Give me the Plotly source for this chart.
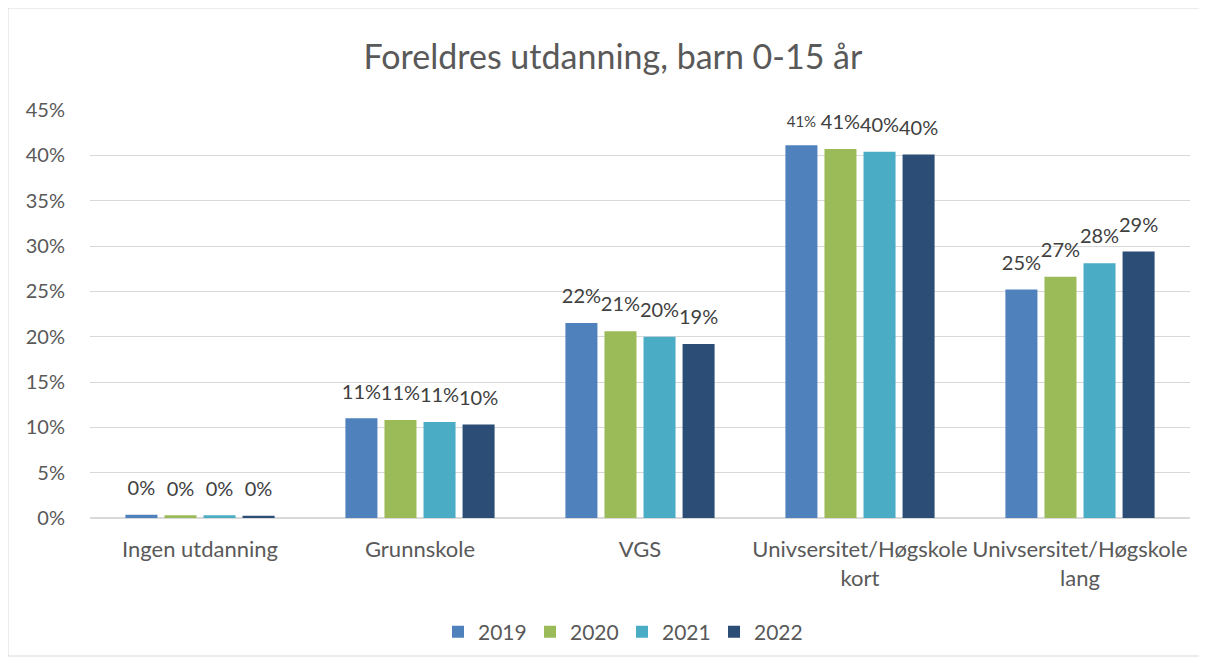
import plotly.graph_objects as go

categories = ["Ingen utdanning", "Grunnskole", "VGS", "Univsersitet/Høgskole<br>kort", "Univsersitet/Høgskole<br>lang"]
years = ["2019", "2020", "2021", "2022"]
v2019 = [0.0035, 0.110, 0.215, 0.411, 0.252]
v2020 = [0.0030, 0.108, 0.206, 0.407, 0.266]
v2021 = [0.0030, 0.106, 0.200, 0.404, 0.281]
v2022 = [0.0025, 0.103, 0.192, 0.401, 0.294]
series = [v2019, v2020, v2021, v2022]
colors = ["#4F81BD", "#9BBB59", "#4BACC6", "#2C4D75"]

W, H = 1207, 662
OFF = 8  # page body margin offset
L, T = 90 - OFF, 110 - OFF
R = W - (1190 - OFF)
B = H - (518 - OFF)
FONT = "Lato, 'Liberation Sans', sans-serif"
GREY = "#595959"
BARGAP = 0.29

fig = go.Figure()
for yr, vals, col in zip(years, series, colors):
    fig.add_trace(go.Bar(
        name=yr, x=categories, y=vals, marker=dict(color=col, line=dict(width=0)),
        offsetgroup=yr, alignmentgroup="a",
    ))
for yr, vals in zip(years, series):
    sizes = [20] * len(vals)
    if yr == "2019":
        sizes[3] = 15
    fig.add_trace(go.Scatter(
        x=categories, y=vals, mode="markers+text", showlegend=False, hoverinfo="skip",
        marker=dict(size=22, opacity=0, color="white"),
        text=[f"{round(v*100):.0f}%" for v in vals], textposition="top center",
        textfont=dict(size=sizes, color="#404040", family=FONT),
        offsetgroup=yr, alignmentgroup="a", cliponaxis=False,
    ))

pw = W - L - R
ph = H - T - B
fig.add_shape(type="rect", xref="paper", yref="paper",
              x0=(8 - OFF - L) / pw, x1=(1200 - OFF - L) / pw,
              y0=(H - B - (656 - OFF)) / ph, y1=(H - B - (8 - OFF)) / ph,
              line=dict(color="#D9D9D9", width=1), fillcolor="rgba(0,0,0,0)", layer="below")

fig.update_layout(
    width=W, height=H,
    margin=dict(l=L, r=R, t=T, b=B),
    paper_bgcolor="white", plot_bgcolor="white",
    barmode="group", bargap=BARGAP, bargroupgap=0.18,
    scattermode="group", scattergap=BARGAP,
    title=dict(text="Foreldres utdanning, barn 0-15 år", x=(613 - OFF - L) / pw, xref="paper",
               xanchor="center", y=1 - (57 - OFF) / H, yanchor="middle",
               font=dict(size=34, color=GREY, family=FONT)),
    font=dict(family=FONT, color=GREY, size=20),
    legend=dict(orientation="h", x=(622 - OFF - L) / pw, xanchor="center",
                y=(H - B - (632 - OFF)) / ph, yanchor="middle",
                font=dict(size=21, color=GREY), traceorder="normal", itemwidth=30,
                entrywidth=47, entrywidthmode="pixels"),
    showlegend=True,
)
fig.update_yaxes(range=[0, 0.45], dtick=0.05, tickformat=".0%", showgrid=True,
                 gridcolor="#D9D9D9", gridwidth=1, zeroline=True, zerolinecolor="#D9D9D9",
                 showline=False, ticklabelstandoff=24, tickfont=dict(size=20, color=GREY))
fig.update_xaxes(showline=True, linecolor="#D9D9D9", ticks="", tickfont=dict(size=22, color=GREY),
                 ticklabelstandoff=12)

fig.write_html("out.html")
